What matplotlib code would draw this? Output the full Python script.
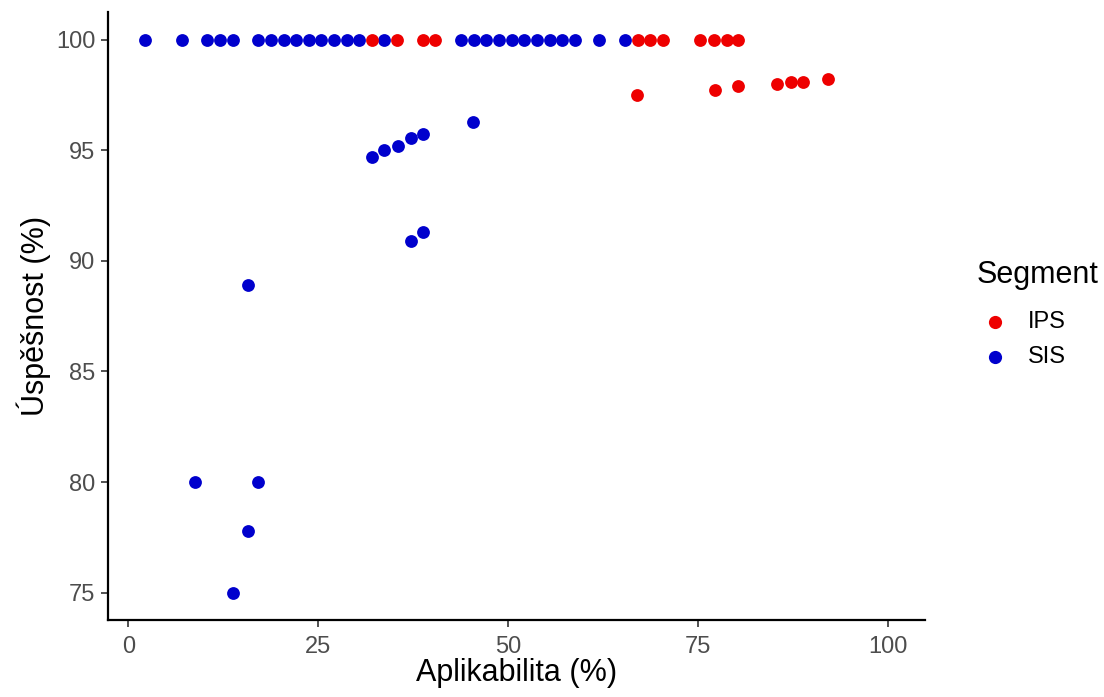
import matplotlib
matplotlib.use("Agg")
import matplotlib.pyplot as plt
from matplotlib.lines import Line2D

plt.rcParams['font.family'] = ['Liberation Sans', 'DejaVu Sans']

# SIS segment
sis_x = [2.2, 7.1, 10.4, 12.1, 13.8, 17.1, 18.8, 20.5, 22.1, 23.8, 25.4, 27.1,
         28.8, 30.4, 33.7, 43.8, 45.5, 47.1, 48.8, 50.5, 52.1, 53.8, 55.5, 57.1,
         58.8, 62.0, 65.4,
         32.1, 33.7, 35.5, 37.2, 38.8, 45.4, 37.2, 38.8, 15.7, 8.8, 17.1, 15.7, 13.8]
sis_y = [100] * 27 + [94.68, 94.99, 95.17, 95.53, 95.71, 96.25, 90.88, 91.29,
                      88.89, 80.0, 80.0, 77.78, 75.0]

# IPS segment
ips_x = [32.1, 35.4, 38.8, 40.4, 67.1, 68.7, 70.4, 75.3, 77.1, 78.8, 80.3,
         67.0, 77.2, 80.3, 85.4, 87.2, 88.8, 92.1]
ips_y = [100] * 11 + [97.47, 97.74, 97.88, 97.97, 98.06, 98.06, 98.2]

segmenty = ["IPS", "SIS"]
barvy = {"IPS": "#EE0000", "SIS": "#0000CD"}

W, H = 1104, 697
fig = plt.figure(figsize=(W / 100, H / 100), dpi=100)
ax = fig.add_axes([0.0978, 0.110, 0.740, 0.873])

ax.scatter(sis_x, sis_y, s=85, color=barvy["SIS"], linewidths=0, zorder=3)
ax.scatter(ips_x, ips_y, s=85, color=barvy["IPS"], linewidths=0, zorder=3)

ax.set_xlim(-2.7, 104.9)
ax.set_ylim(73.75, 101.25)
ax.set_xticks([0, 25, 50, 75, 100])
ax.set_yticks([75, 80, 85, 90, 95, 100])

for s in ["top", "right"]:
    ax.spines[s].set_visible(False)
for s in ["left", "bottom"]:
    ax.spines[s].set_linewidth(1.6)
    ax.spines[s].set_color("black")

ax.tick_params(axis="both", length=5, width=1.2, color="#333333",
               labelsize=17, labelcolor="#4D4D4D")
ax.tick_params(axis="x", pad=6)
ax.tick_params(axis="y", pad=4)

ax.set_xlabel("Aplikabilita (%)", fontsize=22, labelpad=0)
ax.set_ylabel("Úspěšnost (%)", fontsize=22, labelpad=4)

# legenda ručně (pozice v pixelech obrázku)
fig.text(977 / W, 1 - 275 / H, "Segment", fontsize=22, ha="left", va="center")
for i, seg in enumerate(segmenty):
    y = 1 - (322 + 35 * i) / H
    fig.add_artist(Line2D([995 / W], [y], marker="o", linestyle="", markersize=9.5,
                          markerfacecolor=barvy[seg], markeredgewidth=0,
                          transform=fig.transFigure))
    fig.text(1028 / W, y, seg, fontsize=17, ha="left", va="center")

fig.savefig("out.png", dpi=100)
